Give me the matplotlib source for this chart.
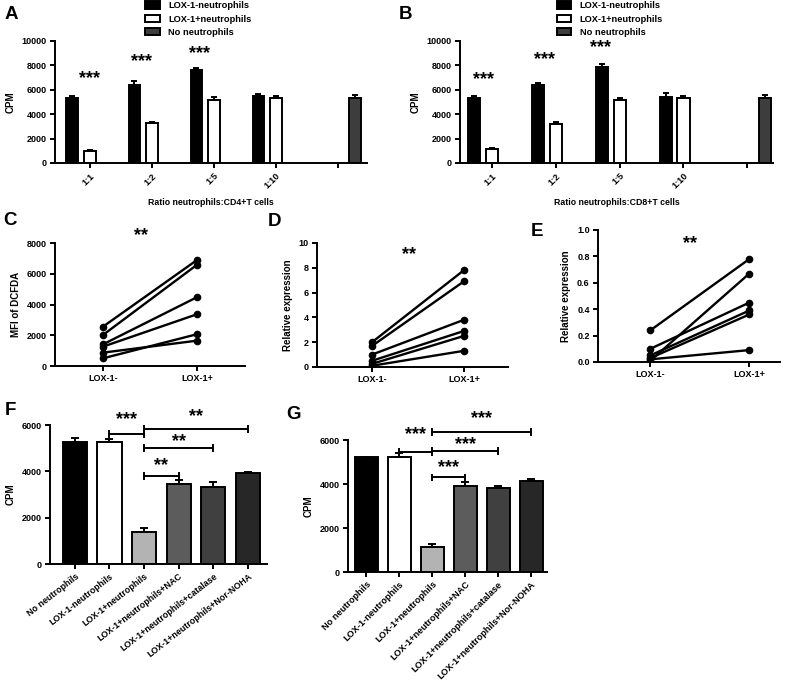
import numpy as np
import matplotlib
matplotlib.use('Agg')
import matplotlib.pyplot as plt
from matplotlib.patches import Patch

plt.rcParams['font.family'] = ['Liberation Sans', 'DejaVu Sans']
plt.rcParams['font.weight'] = 'bold'
plt.rcParams['axes.labelweight'] = 'bold'

nan = np.nan

# A / B : T cell proliferation at different neutrophil ratios
ratio_labels = ['1:1', '1:2', '1:5', '1:10', '']
series_names = ['LOX-1-neutrophils', 'LOX-1+neutrophils', 'No neutrophils']

a_neg = [5320, 6420, 7660, 5450, nan]
a_neg_err = [130, 330, 140, 200, nan]
a_pos = [990, 3250, 5180, 5340, nan]
a_pos_err = [110, 110, 190, 110, nan]
a_none = [nan, nan, nan, nan, 5320]
a_none_err = [nan, nan, nan, nan, 220]
a_sig = ['***', '***', '***']
a_sig_y = [6910, 8290, 8980]

b_neg = [5330, 6410, 7830, 5430, nan]
b_neg_err = [190, 140, 270, 270, nan]
b_pos = [1110, 3210, 5160, 5330, nan]
b_pos_err = [110, 130, 140, 190, nan]
b_none = [nan, nan, nan, nan, 5330]
b_none_err = [nan, nan, nan, nan, 240]
b_sig = ['***', '***', '***']
b_sig_y = [6820, 8500, 9450]

# C / D / E : paired LOX-1- vs LOX-1+
pair_labels = ['LOX-1-', 'LOX-1+']
c_neg = [2560, 2020, 1410, 1260, 870, 500]
c_pos = [6900, 6590, 4480, 3370, 1650, 2070]
d_neg = [2.0, 1.7, 1.0, 0.5, 0.25, 0.1]
d_pos = [7.8, 6.9, 3.8, 2.9, 2.5, 1.3]
e_neg = [0.24, 0.01, 0.10, 0.05, 0.03, 0.02]
e_pos = [0.78, 0.67, 0.45, 0.39, 0.36, 0.09]

# F / G : inhibitors
cond_labels = ['No neutrophils', 'LOX-1-neutrophils', 'LOX-1+neutrophils',
               'LOX-1+neutrophils+NAC', 'LOX-1+neutrophils+catalase',
               'LOX-1+neutrophils+Nor-NOHA']
cond_colors = ['black', 'white', '#b3b3b3', '#5c5c5c', '#404040', '#272727']
f_vals = [5280, 5280, 1390, 3440, 3340, 3910]
f_err = [150, 110, 150, 180, 180, 70]
g_vals = [5210, 5210, 1140, 3900, 3800, 4150]
g_err = [40, 180, 150, 200, 100, 100]
# (from, to, bracket y, label, label y)
f_brackets = [(1, 2, 5610, '***', 6215), (2, 5, 5810, '**', 6360),
              (2, 4, 4990, '**', 5280), (2, 3, 3800, '**', 4270)]
g_brackets = [(1, 2, 5470, '***', 6230), (2, 5, 6350, '***', 6990),
              (2, 4, 5510, '***', 5800), (2, 3, 4300, '***', 4740)]

fig = plt.figure(figsize=(8.02, 6.84), dpi=100)

LW = 1.4
TICK = 6.5
STAR = 13
LAB = 7


def style(ax):
    ax.spines['top'].set_visible(False)
    ax.spines['right'].set_visible(False)
    for s in ['left', 'bottom']:
        ax.spines[s].set_linewidth(LW)
    ax.tick_params(width=LW, length=3.5, labelsize=TICK, direction='out', pad=2.5)


def grouped(rect, neg, neg_err, pos, pos_err, none, none_err, sig, sig_y, sig_dx, xlim, xlabel):
    ax = fig.add_axes(rect)
    x = np.arange(len(ratio_labels))
    off = 0.28
    w = 0.19
    for vals, err, dx, col in [(neg, neg_err, -off, 'black'), (pos, pos_err, 0, 'white'),
                               (none, none_err, off, '#3d3d3d')]:
        vals = np.array(vals, float)
        err = np.array(err, float)
        ax.bar(x + dx, vals, w, color=col, edgecolor='black', linewidth=LW)
        ax.errorbar(x + dx, vals, yerr=[np.zeros_like(err), err], fmt='none',
                    ecolor='black', elinewidth=LW, capsize=2.5, capthick=LW)
    for i, (s, y) in enumerate(zip(sig, sig_y)):
        ax.text(x[i] + sig_dx[i], y, s, ha='center', va='center', fontsize=STAR)
    ax.set_ylim(0, 10000)
    ax.set_yticks(range(0, 10001, 2000))
    ax.set_xlim(*xlim)
    ax.set_xticks(x)
    ax.set_xticklabels(ratio_labels, rotation=45, ha='right', rotation_mode='anchor')
    ax.set_ylabel('CPM', fontsize=LAB)
    ax.set_xlabel(xlabel, fontsize=6.3, labelpad=5)
    style(ax)
    return ax


grouped([0.0686, 0.7617, 0.389, 0.1784], a_neg, a_neg_err, a_pos, a_pos_err, a_none, a_none_err,
        a_sig, a_sig_y, [0, -0.16, -0.23], (-0.56, 4.47), 'Ratio neutrophils:CD4+T cells')
grouped([0.5736, 0.7617, 0.390, 0.1784], b_neg, b_neg_err, b_pos, b_pos_err, b_none, b_none_err,
        b_sig, b_sig_y, [-0.14, -0.17, -0.3], (-0.5, 4.4), 'Ratio neutrophils:CD8+T cells')

handles = [Patch(facecolor=c, edgecolor='black', linewidth=LW) for c in ['black', 'white', '#3d3d3d']]
for xpos in [0.181, 0.694]:
    fig.legend(handles, series_names, loc='upper left', bbox_to_anchor=(xpos, 0.998),
               frameon=False, fontsize=6.7, handlelength=1.6, handleheight=0.85,
               labelspacing=0.45, handletextpad=0.9, borderpad=0, borderaxespad=0)


def paired(rect, neg, pos, ylim, yticks, ylabel, star_y, xlim, fmt=None):
    ax = fig.add_axes(rect)
    for a, b in zip(neg, pos):
        ax.plot([0, 1], [a, b], color='black', lw=1.7, marker='o', ms=4.5)
    ax.set_xlim(*xlim)
    ax.set_xticks([0, 1])
    ax.set_xticklabels(pair_labels)
    ax.set_ylim(*ylim)
    ax.set_yticks(yticks)
    if fmt:
        ax.set_yticklabels([fmt % t for t in yticks])
    ax.set_ylabel(ylabel, fontsize=LAB)
    ax.text(0.4, star_y, '**', ha='center', va='center', fontsize=STAR)
    style(ax)
    return ax


paired([0.0686, 0.4649, 0.237, 0.1798], c_neg, c_pos, (0, 8000), range(0, 8001, 2000),
       'MFI of DCFDA', 8500, (-0.51, 1.51))
paired([0.3953, 0.4635, 0.238, 0.1813], d_neg, d_pos, (0, 10), range(0, 11, 2),
       'Relative expression', 9.1, (-0.6, 1.48))
paired([0.7456, 0.4708, 0.227, 0.193], e_neg, e_pos, (0, 1.0), [0, 0.2, 0.4, 0.6, 0.8, 1.0],
       'Relative expression', 0.9, (-0.53, 1.31), fmt='%.1f')


def inhibitor(rect, vals, err, brackets, xlim, rot, lsize):
    ax = fig.add_axes(rect)
    x = np.arange(len(cond_labels))
    ax.bar(x, vals, 0.7, color=cond_colors, edgecolor='black', linewidth=LW)
    ax.errorbar(x, vals, yerr=[np.zeros(len(err)), err], fmt='none', ecolor='black',
                elinewidth=LW, capsize=3, capthick=LW)
    for i, j, y, s, sy in brackets:
        ax.plot([x[i], x[j]], [y, y], color='black', lw=LW, clip_on=False)
        for k in (i, j):
            ax.plot([x[k], x[k]], [y - 130, y + 130], color='black', lw=LW, clip_on=False)
        ax.text((x[i] + x[j]) / 2, sy, s, ha='center', va='center', fontsize=STAR)
    ax.set_xlim(*xlim)
    ax.set_ylim(0, 6000)
    ax.set_yticks(range(0, 6001, 2000))
    ax.set_xticks(x)
    ax.set_xticklabels(cond_labels, rotation=rot, ha='right', rotation_mode='anchor')
    ax.set_ylabel('CPM', fontsize=LAB)
    style(ax)
    ax.tick_params(axis='x', labelsize=lsize, pad=2)
    return ax


inhibitor([0.0623, 0.1754, 0.2706, 0.2032], f_vals, f_err, f_brackets, (-0.72, 5.55), 38, 6.4)
inhibitor([0.4339, 0.1637, 0.248, 0.193], g_vals, g_err, g_brackets, (-0.55, 5.48), 45, 6.6)

for lab, px, py in [('A', 5, 6), ('B', 399, 6), ('C', 3, 212), ('D', 268, 213),
                    ('E', 531, 223), ('F', 5, 402), ('G', 286, 406)]:
    fig.text(px / 802, 1 - py / 684, lab, fontsize=13.5, fontweight='bold', va='top', ha='left')

fig.savefig('out.png', dpi=100)
